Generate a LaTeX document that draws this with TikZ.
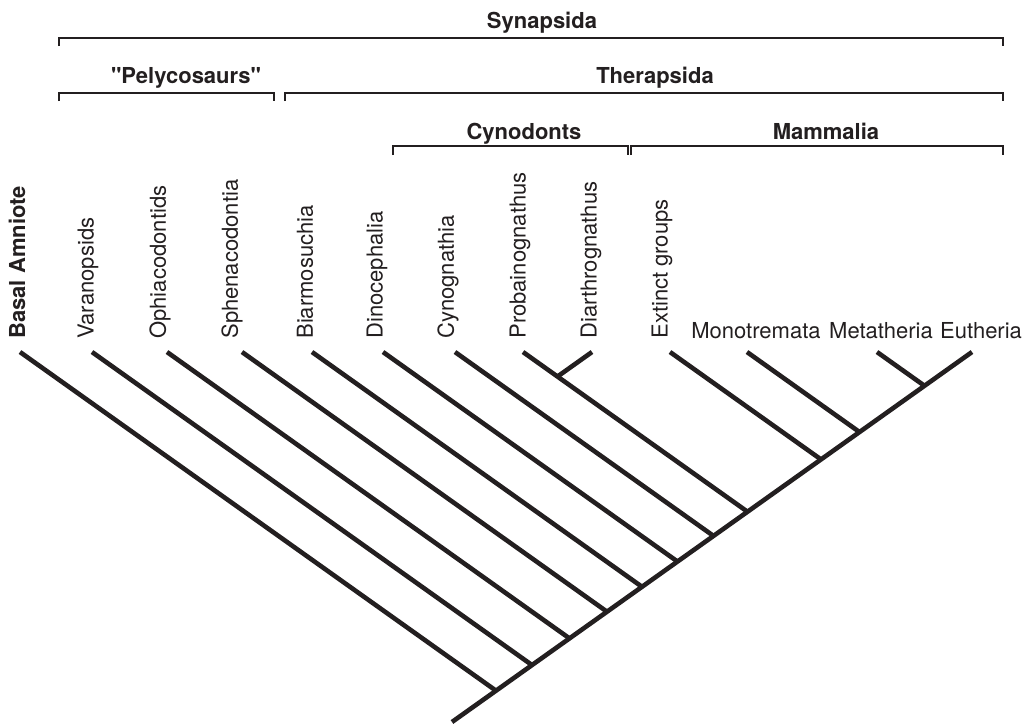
\documentclass[tikz,border=0pt]{standalone}
\usepackage{fontspec}
\setmainfont{TeX Gyre Heros}[Ligatures=TeXOff]
\usepackage{xcolor}
\usepackage{tikz}
\definecolor{treeink}{HTML}{231F20}

\begin{document}
\begin{tikzpicture}[
        x=0.5pt, y=-0.5pt,
        font=\fontsize{11}{13}\selectfont,
        taxon/.style={
            rotate=90,
            anchor=west,
            inner sep=0pt,
            text=treeink
        },
        crown/.style={
            anchor=base,
            inner sep=0pt,
            text=treeink
        },
        clade/.style={
            anchor=base,
            inner sep=0pt,
            text=treeink,
            font=\fontsize{11}{13}\selectfont\bfseries
        },
        branch/.style={line width=2.3pt,treeink},
        bracket/.style={line width=0.55pt,treeink}
    ]
        \useasboundingbox (0,0) rectangle (1030,725);

        % clade brackets
        \node[clade] (synap) at (542,28) {Synapsida};
        \draw[bracket] (59,46) |- (1003,38) -- (1003,46);
        \node[clade] (pelyc) at (186,83) {"Pelycosaurs"};
        \draw[bracket] (59,101) |- (274,93) -- (274,101);
        \node[clade] (therap) at (655,83) {Therapsida};
        \draw[bracket] (285,101) |- (1003,93) -- (1003,101);
        \node[clade] (cynod) at (524,139) {Cynodonts};
        \draw[bracket] (393,155) |- (628,146) -- (628,155);
        \node[clade] (mamma) at (826,139) {Mammalia};
        \draw[bracket] (631,155) |- (1003,146) -- (1003,155);

        % spine
        \coordinate (root) at (452,722);
        \coordinate (tipeuthe) at (972,352);
        \draw[branch] (root) -- (tipeuthe);

        % branches joining the spine
        \foreach \leaf/\tx/\lx/\txt in {
            basal/20/17/{\bfseries Basal Amniote},
            varan/92/88/Varanopsids,
            ophia/167/160/Ophiacodontids,
            sphen/242/232/Sphenacodontia,
            biarm/312/305/Biarmosuchia,
            dinoc/383/377/Dinocephalia,
            cynog/455/448/Cynognathia,
            proba/523/520/Probainognathus,
            extin/670/662/Extinct groups}
        {
            \node[taxon] (\leaf) at (\lx,339) {\txt};
            \coordinate (tip\leaf) at (\tx,352);
            \coordinate (j\leaf) at ({(972+\tx)/2},{352+(972-\tx)/520*185});
            \draw[branch] (tip\leaf) -- (j\leaf);
        }

        \node[taxon] (diart) at (591,339) {Diarthrognathus};
        \coordinate (tipdiart) at (592,352);
        \coordinate (jdiart) at ({(523+592)/2},{352+(592-523)/520*185});
        \draw[branch] (tipdiart) -- (jdiart);

        \node[crown] (monot) at (756,338) {Monotremata};
        \node[crown] (metat) at (881,338) {Metatheria};
        \node[crown] (euthe) at (981,338) {Eutheria};
        \coordinate (tipmonot) at (747,352);
        \coordinate (jmonot) at ({(972+747)/2},{352+(972-747)/520*185});
        \draw[branch] (tipmonot) -- (jmonot);
        \coordinate (tipmetat) at (877,352);
        \coordinate (jmetat) at ({(972+877)/2},{352+(972-877)/520*185});
        \draw[branch] (tipmetat) -- (jmetat);
    \end{tikzpicture}
\end{document}
